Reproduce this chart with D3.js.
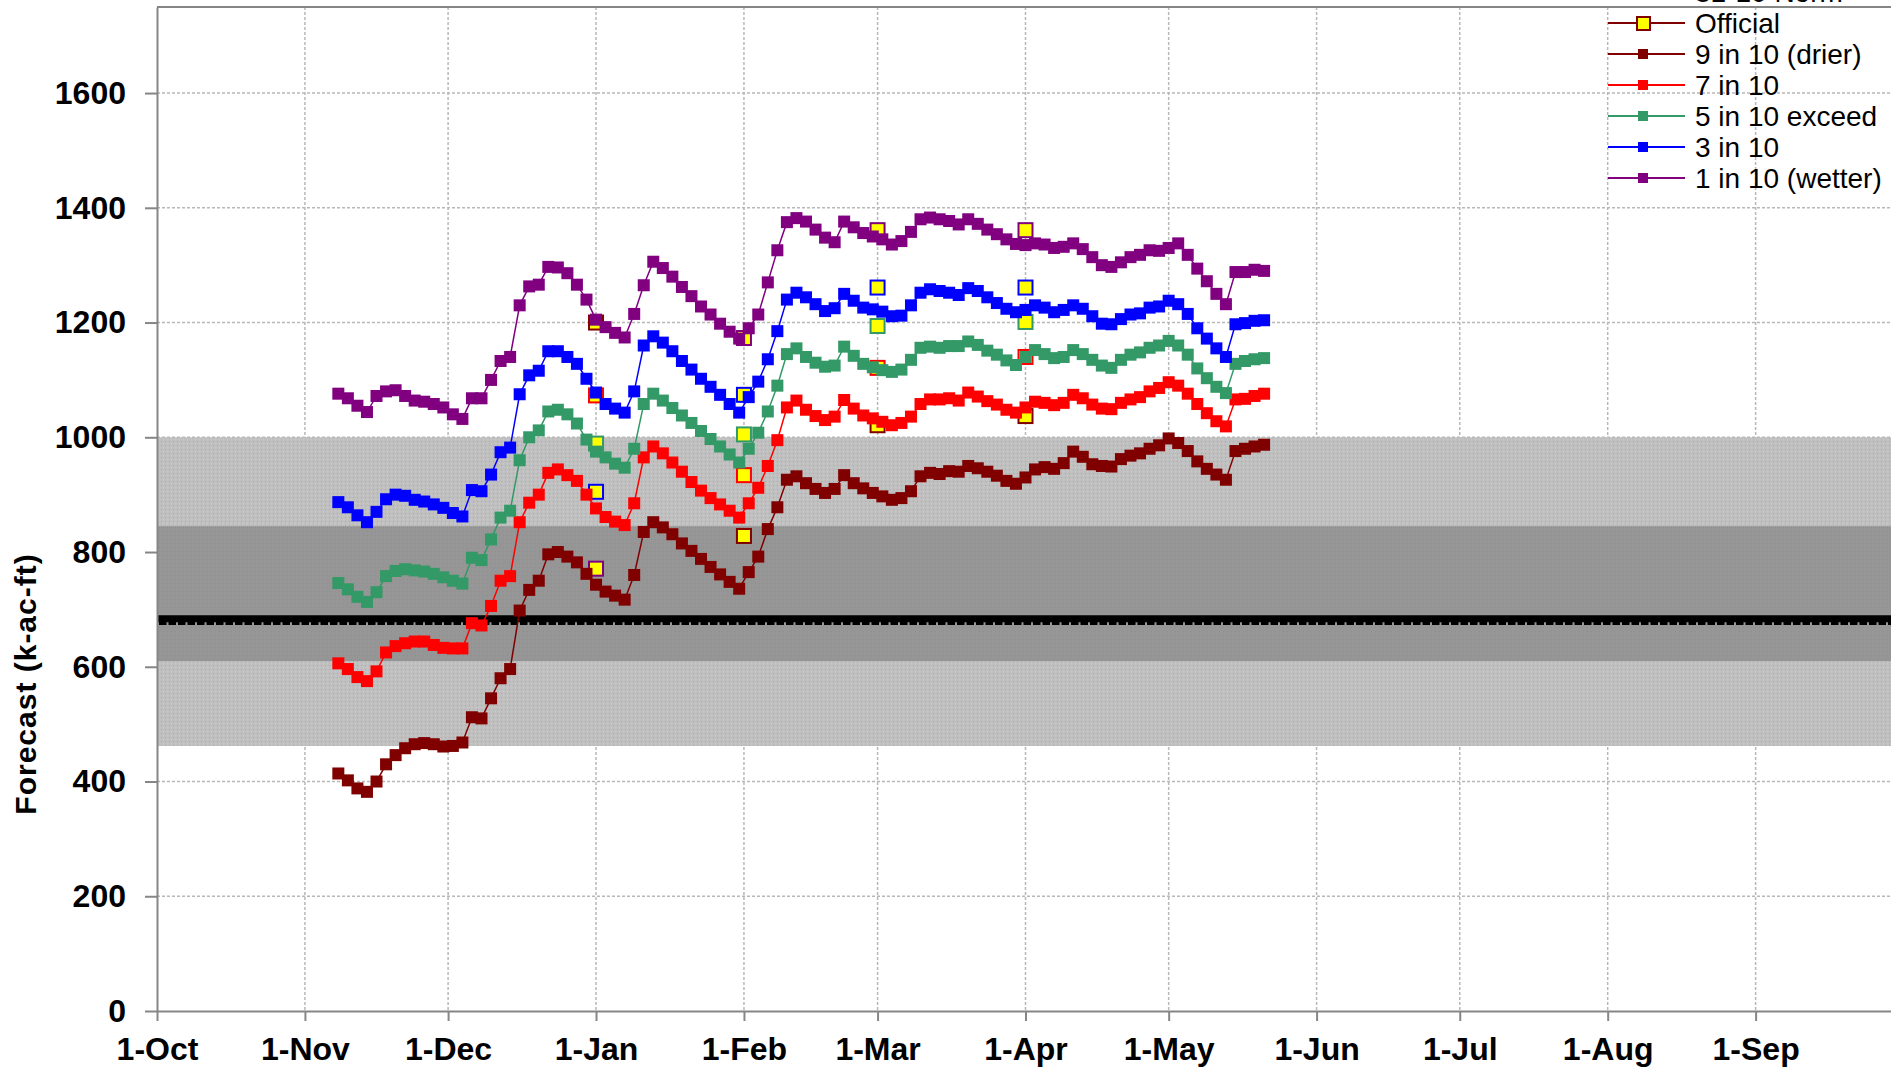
<!DOCTYPE html>
<html>
<head>
<meta charset="utf-8">
<script src="https://cdn.jsdelivr.net/npm/d3@7"></script>
<style>
body { margin: 0; background: #fff; }
svg { display: block; font-family: "Liberation Sans", Arial, sans-serif; }
</style>
</head>
<body>
<svg id="chart" width="1891" height="1067"></svg>
<script>
// daily forecast runs, one reading every 2 days from 8-Nov
const firstRun = new Date(2012, 10, 8);
const runStep = 2;

const nineInTen = [414,402,388,382,400,430,446,458,465,467,465,461,462,468,512,510,545,580,596,698,734,750,796,800,792,
  782,762,743,731,724,717,760,835,852,843,831,815,802,788,774,761,748,736,765,792,840,878,926,932,
  920,910,903,910,934,920,911,903,897,891,894,906,932,938,936,941,940,950,946,940,933,924,919,930,944,
  948,945,955,975,966,953,950,949,962,968,972,980,986,998,990,976,958,945,935,926,976,980,984,987];
const sevenInTen = [606,596,582,575,592,625,636,641,644,644,638,633,632,632,676,672,706,750,758,852,886,900,938,944,934,
  924,900,876,861,853,847,885,965,984,972,956,940,922,907,894,883,872,860,885,912,950,995,1052,1064,
  1048,1037,1030,1036,1065,1050,1038,1033,1027,1021,1025,1036,1058,1066,1066,1068,1064,1078,1071,1063,1057,1048,1043,1052,1062,
  1060,1056,1060,1074,1068,1057,1050,1049,1060,1066,1070,1080,1086,1096,1090,1076,1058,1042,1028,1019,1066,1067,1072,1076];
const fiveInTen = [746,735,722,713,730,758,767,770,768,766,762,756,750,745,790,786,822,860,872,960,1000,1012,1045,1048,1040,
  1024,996,975,965,954,947,980,1058,1076,1064,1051,1038,1025,1011,997,984,970,956,980,1008,1045,1090,1145,1155,
  1140,1130,1123,1125,1158,1142,1128,1122,1117,1114,1118,1135,1156,1158,1156,1159,1159,1167,1161,1151,1144,1134,1126,1140,1152,
  1145,1138,1140,1152,1145,1135,1125,1121,1135,1144,1148,1156,1160,1168,1160,1144,1120,1103,1088,1077,1128,1133,1136,1138];
const threeInTen = [887,878,864,852,870,892,900,898,891,888,883,877,868,862,908,906,935,974,982,1075,1108,1116,1150,1150,1140,
  1128,1102,1078,1058,1050,1043,1080,1160,1176,1165,1150,1133,1118,1102,1088,1074,1058,1043,1070,1097,1136,1185,1240,1252,
  1244,1232,1220,1225,1250,1238,1226,1223,1219,1211,1212,1230,1252,1258,1255,1252,1248,1260,1255,1244,1234,1224,1218,1222,1230,
  1226,1218,1222,1230,1224,1211,1198,1197,1206,1214,1216,1226,1228,1238,1232,1215,1190,1172,1155,1140,1197,1199,1203,1204];
const oneInTen = [1076,1068,1055,1044,1072,1080,1082,1072,1064,1062,1058,1052,1040,1032,1068,1068,1100,1133,1140,1230,1263,1266,1297,1296,1286,
  1266,1240,1205,1192,1182,1174,1215,1265,1306,1295,1280,1262,1246,1228,1214,1198,1184,1172,1190,1214,1270,1326,1375,1382,
  1376,1362,1348,1340,1376,1366,1356,1350,1345,1336,1342,1358,1380,1383,1380,1377,1371,1380,1372,1362,1354,1345,1337,1335,1338,
  1336,1330,1332,1338,1328,1314,1300,1297,1305,1314,1318,1326,1325,1330,1338,1318,1294,1272,1250,1232,1288,1288,1292,1290];

const officialDates = ["2013-01-01", "2013-02-01", "2013-03-01", "2013-04-01"];
const officialNine = [1200, 828, 1021, 1037];
const officialSeven = [1073, 934, 1121, 1140];
const officialFive = [989, 1005, 1194, 1201];
const officialThree = [905, 1074, 1261, 1261];
const officialOne = [771, 1173, 1361, 1361];

const normValue = 680;
const outerBand = [462, 1000];
const innerBand = [610, 845];
const yTicks = [0, 200, 400, 600, 800, 1000, 1200, 1400, 1600];

const svg = d3.select("#chart");

const x = d3.scaleTime()
    .domain([new Date(2012, 9, 1), new Date(2013, 8, 30)])
    .range([157, 1894]);
const y = d3.scaleLinear()
    .domain([0, 1750])
    .range([1011, 7]);

const runDates = oneInTen.map((d, i) => d3.timeDay.offset(firstRun, runStep * i));
const parse = d3.timeParse("%Y-%m-%d");

const series = [
    {name: "9 in 10 (drier)", values: nineInTen, official: officialNine, color: "#800000"},
    {name: "7 in 10", values: sevenInTen, official: officialSeven, color: "#ff0000"},
    {name: "5 in 10 exceed", values: fiveInTen, official: officialFive, color: "#339966"},
    {name: "3 in 10", values: threeInTen, official: officialThree, color: "#0000ff"},
    {name: "1 in 10 (wetter)", values: oneInTen, official: officialOne, color: "#800080"}
];

// stippled band fills
const defs = svg.append("defs");
function stipple(id, base, dotA, dotB) {
    const p = defs.append("pattern").attr("id", id)
        .attr("width", 4).attr("height", 4).attr("patternUnits", "userSpaceOnUse");
    p.append("rect").attr("width", 4).attr("height", 4).attr("fill", base);
    p.append("rect").attr("x", 1).attr("y", 1).attr("width", 1).attr("height", 1).attr("fill", dotA);
    p.append("rect").attr("x", 3).attr("y", 3).attr("width", 1).attr("height", 1).attr("fill", dotB);
}
stipple("lightBand", "#c0c0c0", "#a9a9a9", "#cdc4cd");
stipple("darkBand", "#969696", "#a48d8d", "#8e8e8e");

// grid
svg.append("g").selectAll("line")
    .data(yTicks.filter(d => d > 0))
    .enter().append("line")
    .attr("x1", x.range()[0]).attr("x2", x.range()[1])
    .attr("y1", d => y(d)).attr("y2", d => y(d))
    .style("stroke", "#b8b8b8").style("stroke-width", 1.5).style("stroke-dasharray", "3,2");

svg.append("g").selectAll("line")
    .data(x.ticks(d3.timeMonth.every(1)).slice(1))
    .enter().append("line")
    .attr("x1", d => x(d)).attr("x2", d => x(d))
    .attr("y1", y.range()[1]).attr("y2", y.range()[0])
    .style("stroke", "#b8b8b8").style("stroke-width", 1.5).style("stroke-dasharray", "3,2");

// normal range bands
svg.append("rect")
    .attr("x", x.range()[0]).attr("width", x.range()[1] - x.range()[0])
    .attr("y", y(outerBand[1])).attr("height", y(outerBand[0]) - y(outerBand[1]))
    .attr("fill", "url(#lightBand)");
svg.append("rect")
    .attr("x", x.range()[0]).attr("width", x.range()[1] - x.range()[0])
    .attr("y", y(innerBand[1])).attr("height", y(innerBand[0]) - y(innerBand[1]))
    .attr("fill", "url(#darkBand)");

// norm line
svg.append("line")
    .attr("x1", x.range()[0]).attr("x2", x.range()[1])
    .attr("y1", y(normValue) - 2).attr("y2", y(normValue) - 2)
    .style("stroke", "#000").style("stroke-width", 7);
svg.append("line")
    .attr("x1", x.range()[0] + 2).attr("x2", x.range()[1])
    .attr("y1", y(normValue) + 2.5).attr("y2", y(normValue) + 2.5)
    .style("stroke", "#000").style("stroke-width", 3.5).style("stroke-dasharray", "7.5,2");

// frame
svg.append("line")
    .attr("x1", x.range()[0]).attr("x2", x.range()[1])
    .attr("y1", y.range()[1]).attr("y2", y.range()[1])
    .style("stroke", "#868686").style("stroke-width", 2);

// official forecasts (sit under the daily lines)
series.forEach(s => {
    svg.append("g").selectAll("rect")
        .data(s.official)
        .enter().append("rect")
        .attr("x", (d, i) => x(parse(officialDates[i])) - 7)
        .attr("y", d => y(d) - 7)
        .attr("width", 14).attr("height", 14)
        .style("fill", "#ffff00")
        .style("stroke", s.color).style("stroke-width", 2);
});

// daily forecast series
const line = d3.line()
    .x((d, i) => x(runDates[i]))
    .y(d => y(d));

series.forEach(s => {
    svg.append("path")
        .datum(s.values)
        .attr("d", line)
        .style("fill", "none")
        .style("stroke", s.color).style("stroke-width", 1.5);
    svg.append("g").selectAll("rect")
        .data(s.values)
        .enter().append("rect")
        .attr("x", (d, i) => x(runDates[i]) - 6)
        .attr("y", d => y(d) - 6)
        .attr("width", 12).attr("height", 12)
        .style("fill", s.color);
});

// axes
const yAxis = svg.append("g")
    .attr("transform", `translate(${x.range()[0]},0)`)
    .call(d3.axisLeft(y).tickValues(yTicks).tickFormat(d3.format("d"))
        .tickSize(12).tickSizeOuter(0).tickPadding(19));
const xAxis = svg.append("g")
    .attr("transform", `translate(0,${y.range()[0]})`)
    .call(d3.axisBottom(x).ticks(d3.timeMonth.every(1)).tickFormat(d3.timeFormat("%-d-%b"))
        .tickSize(10).tickSizeOuter(0).tickPadding(16));

[yAxis, xAxis].forEach(a => {
    a.select(".domain").style("stroke", "#868686").style("stroke-width", 2);
    a.selectAll(".tick line").style("stroke", "#868686").style("stroke-width", 2);
    a.selectAll("text")
        .style("font-family", "'Liberation Sans', Arial, sans-serif")
        .style("font-size", "32px").style("font-weight", "bold").style("fill", "#000");
});

svg.append("text")
    .attr("transform", "translate(36,684) rotate(-90)")
    .attr("text-anchor", "middle")
    .style("font-size", "30px").style("font-weight", "bold").style("letter-spacing", "1px")
    .text("Forecast (k-ac-ft)");

// legend
const legendRows = [
    {name: "81-10 Norm", color: "#000", marker: "none"},
    {name: "Official", color: "#800000", marker: "official"},
    ...series.map(s => ({name: s.name, color: s.color, marker: "square"}))
];

const legend = svg.append("g").selectAll("g")
    .data(legendRows)
    .enter().append("g")
    .attr("transform", (d, i) => `translate(1608,${-8 + 31 * i})`);

legend.append("line")
    .attr("x1", 0).attr("x2", 77)
    .style("stroke", d => d.color)
    .style("stroke-width", d => d.marker === "none" ? 8 : 2);

legend.filter(d => d.marker === "square").append("rect")
    .attr("x", 30).attr("y", -5).attr("width", 10).attr("height", 10)
    .style("fill", d => d.color);

legend.filter(d => d.marker === "official").append("rect")
    .attr("x", 29).attr("y", -6).attr("width", 13).attr("height", 13)
    .style("fill", "#ffff00").style("stroke", d => d.color).style("stroke-width", 2);

legend.append("text")
    .attr("x", 87).attr("dy", "0.35em")
    .style("font-size", "28px")
    .text(d => d.name);
</script>
</body>
</html>
